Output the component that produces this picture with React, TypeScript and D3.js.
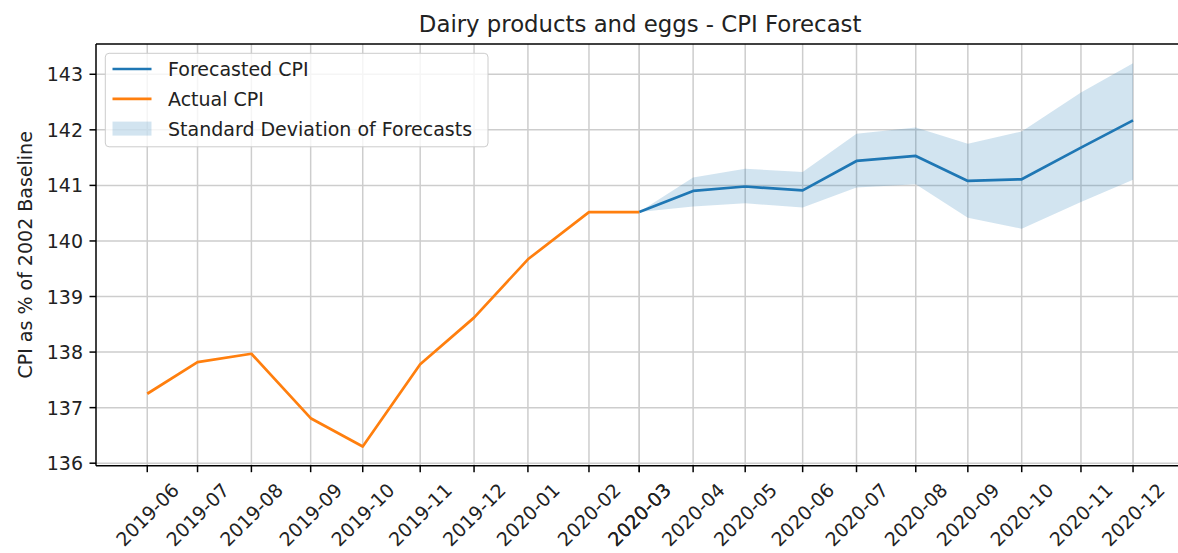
import React from "react";
import * as d3 from "d3";

// ---- data ----
const actualDates = [
  "2019-06-15", "2019-07-13", "2019-08-12", "2019-09-14", "2019-10-13",
  "2019-11-14", "2019-12-14", "2020-01-13", "2020-02-16", "2020-03-15",
];
const forecastDates = [
  "2020-03-15", "2020-04-14", "2020-05-13", "2020-06-14", "2020-07-14",
  "2020-08-16", "2020-09-14", "2020-10-14", "2020-11-16", "2020-12-15",
];
const actualCPI = [137.25, 137.82, 137.97, 136.81, 136.3, 137.78, 138.62, 139.67, 140.52, 140.52];
const forecastCPI = [140.52, 140.9, 140.98, 140.91, 141.44, 141.53, 141.08, 141.11, 141.68, 142.17];
const forecastUpper = [140.52, 141.14, 141.3, 141.24, 141.93, 142.04, 141.75, 141.97, 142.67, 143.2];
const forecastLower = [140.52, 140.62, 140.68, 140.6, 140.96, 141.02, 140.42, 140.22, 140.7, 141.1];
const yTickValues = [136, 137, 138, 139, 140, 141, 142, 143];
const seriesLabels = ["Forecasted CPI", "Actual CPI", "Standard Deviation of Forecasts"];
const chartTitle = "Dairy products and eggs - CPI Forecast";
const yAxisLabel = "CPI as % of 2002 Baseline";

// ---- layout ----
const W = 1178;
const H = 553;
const left = 96;
const right = 1184.3;
const top = 44;
const bottom = 465.7;
const FS = 19;
const FONT = "'DejaVu Sans', sans-serif";
const BLUE = "#1f77b4";
const ORANGE = "#ff7f0e";
const GRID = "#cdcdcd";

const parse = d3.utcParse("%Y-%m-%d");
const fmt = d3.utcFormat("%Y-%m");

export default function App() {
  const aD = actualDates.map((d) => parse(d) as Date);
  const fD = forecastDates.map((d) => parse(d) as Date);
  const allDates = [...aD, ...fD];
  const [t0, t1] = d3.extent(allDates) as [Date, Date];
  const span = +t1 - +t0;
  const m = 0.052;
  const x = d3
    .scaleUtc()
    .domain([new Date(+t0 - m * span), new Date(+t1 + m * span)])
    .range([left, right]);

  const allY = [...actualCPI, ...forecastCPI, ...forecastUpper, ...forecastLower];
  const [y0, y1] = d3.extent(allY) as [number, number];
  const ypad = (y1 - y0) * 0.05;
  const y = d3.scaleLinear().domain([y0 - ypad, y1 + ypad]).range([bottom, top]);

  const actualPts = aD.map((d, i) => ({ d, v: actualCPI[i] }));
  const forecastPts = fD.map((d, i) => ({ d, v: forecastCPI[i], lo: forecastLower[i], hi: forecastUpper[i] }));

  const line = d3
    .line<{ d: Date; v: number }>()
    .x((p) => x(p.d))
    .y((p) => y(p.v));
  const area = d3
    .area<{ d: Date; lo: number; hi: number }>()
    .x((p) => x(p.d))
    .y0((p) => y(p.lo))
    .y1((p) => y(p.hi));

  const tickLen = 6.5;
  const pad = 6.5;
  const labelTop = bottom + tickLen + pad;
  const labelTextW = 4.177 * FS;
  const labelH = 1.164 * FS;
  const bboxH = (labelTextW + labelH) * Math.SQRT1_2;

  const legendX = 105.3;
  const legendY = 53.3;
  const legendW = 382.7;
  const legendH = 93.5;
  const rowY = [69, 98.8, 128.6];
  const handleX0 = 112.5;
  const handleX1 = 151.5;
  const textX = 168;

  return (
    <div>
      <style>{`body{margin:0;background:#fff}`}</style>
      <svg width={W} height={H} style={{ display: "block" }} fontFamily={FONT}>
        <defs>
          <clipPath id="plot">
            <rect x={left} y={top} width={right - left} height={bottom - top} />
          </clipPath>
        </defs>
        <rect x={0} y={0} width={W} height={H} fill="#fff" />

        {/* grid */}
        <g stroke={GRID} strokeWidth={1.5}>
          {allDates.map((d, i) => (
            <line key={"vg" + i} x1={x(d)} x2={x(d)} y1={top} y2={bottom} />
          ))}
          {yTickValues.map((v) => (
            <line key={"hg" + v} x1={left} x2={right} y1={y(v)} y2={y(v)} />
          ))}
        </g>

        {/* band & lines */}
        <g clipPath="url(#plot)">
          <path d={area(forecastPts) || ""} fill={BLUE} fillOpacity={0.2} stroke="none" />
          <path d={line(forecastPts) || ""} fill="none" stroke={BLUE} strokeWidth={2.7} strokeLinejoin="round" />
          <path d={line(actualPts) || ""} fill="none" stroke={ORANGE} strokeWidth={2.7} strokeLinejoin="round" />
        </g>

        {/* spines */}
        <g stroke="#000" strokeWidth={1.5} fill="none">
          <line x1={left} x2={left} y1={top} y2={bottom} />
          <line x1={left} x2={right} y1={bottom} y2={bottom} />
          <line x1={left} x2={right} y1={top} y2={top} />
          <line x1={right} x2={right} y1={top} y2={bottom} />
        </g>

        {/* y ticks */}
        <g>
          {yTickValues.map((v) => (
            <g key={"yt" + v}>
              <line x1={left - tickLen} x2={left} y1={y(v)} y2={y(v)} stroke="#000" strokeWidth={1.5} />
              <text
                x={left - tickLen - pad}
                y={y(v)}
                textAnchor="end"
                dominantBaseline="central"
                fontSize={FS}
                fill="#222"
              >
                {v}
              </text>
            </g>
          ))}
        </g>

        {/* x ticks */}
        <g>
          {allDates.map((d, i) => {
            const cx = x(d);
            const cy = labelTop + bboxH / 2;
            return (
              <g key={"xt" + i}>
                <line x1={cx} x2={cx} y1={bottom} y2={bottom + tickLen} stroke="#000" strokeWidth={1.5} />
                <text
                  x={cx}
                  y={cy}
                  textAnchor="middle"
                  dominantBaseline="central"
                  fontSize={FS}
                  fill="#222"
                  transform={`rotate(-45 ${cx} ${cy})`}
                >
                  {fmt(d)}
                </text>
              </g>
            );
          })}
        </g>

        {/* y label */}
        <text
          x={25}
          y={(top + bottom) / 2}
          textAnchor="middle"
          dominantBaseline="central"
          fontSize={FS}
          fill="#222"
          transform={`rotate(-90 25 ${(top + bottom) / 2})`}
        >
          {yAxisLabel}
        </text>

        {/* title */}
        <text x={(left + right) / 2} y={31.5} textAnchor="middle" fontSize={22.8} fill="#222">
          {chartTitle}
        </text>

        {/* legend */}
        <g>
          <rect
            x={legendX}
            y={legendY}
            width={legendW}
            height={legendH}
            rx={3.8}
            fill="#fff"
            fillOpacity={0.8}
            stroke="#cccccc"
            strokeWidth={1}
          />
          <line x1={handleX0} x2={handleX1} y1={rowY[0]} y2={rowY[0]} stroke={BLUE} strokeWidth={2.7} />
          <line x1={handleX0} x2={handleX1} y1={rowY[1]} y2={rowY[1]} stroke={ORANGE} strokeWidth={2.7} />
          <rect x={handleX0} y={rowY[2] - 7} width={handleX1 - handleX0} height={14} fill={BLUE} fillOpacity={0.2} />
          {seriesLabels.map((s, i) => (
            <text key={s} x={textX} y={rowY[i]} dominantBaseline="central" fontSize={FS} fill="#222">
              {s}
            </text>
          ))}
        </g>
      </svg>
    </div>
  );
}
